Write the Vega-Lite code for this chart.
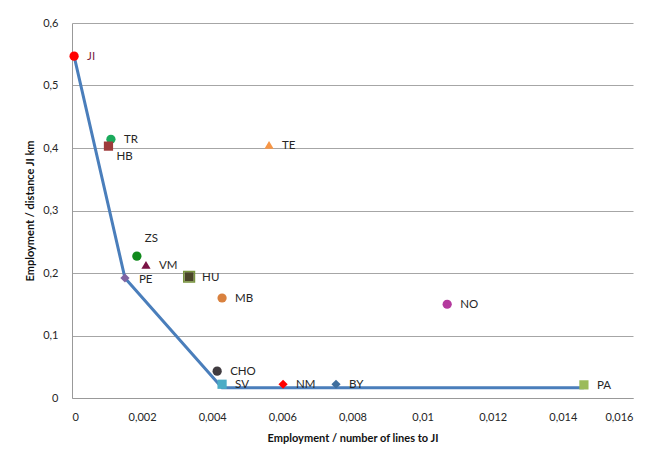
{
  "$schema": "https://vega.github.io/schema/vega-lite/v6.json",
  "autosize": {"type": "none"},
  "width": 561,
  "height": 375,
  "padding": {"left": 72, "top": 23, "right": 16, "bottom": 63},
  "background": "white",
  "config": {
    "font": "Lato",
    "view": {"stroke": null},
    "axis": {
      "labelFont": "Lato", "labelFontSize": 11, "labelColor": "#262626",
      "titleFont": "Lato", "titleFontSize": 11, "titleFontWeight": "bold", "titleColor": "#111111",
      "ticks": false, "domainColor": "#999999", "gridColor": "#a6a6a6", "gridWidth": 1
    }
  },
  "datasets": {
    "pts": [
      {"name": "JI", "x": 0.00006, "y": 0.547},
      {"name": "TR", "x": 0.00111, "y": 0.414},
      {"name": "HB", "x": 0.00104, "y": 0.403},
      {"name": "TE", "x": 0.00562, "y": 0.405},
      {"name": "ZS", "x": 0.00185, "y": 0.227},
      {"name": "VM", "x": 0.00211, "y": 0.213},
      {"name": "PE", "x": 0.00151, "y": 0.192},
      {"name": "HU", "x": 0.00334, "y": 0.194},
      {"name": "MB", "x": 0.00428, "y": 0.160},
      {"name": "NO", "x": 0.01070, "y": 0.150},
      {"name": "CHO", "x": 0.00414, "y": 0.043},
      {"name": "SV", "x": 0.00428, "y": 0.022},
      {"name": "NM", "x": 0.00602, "y": 0.022},
      {"name": "BY", "x": 0.00753, "y": 0.022},
      {"name": "PA", "x": 0.01460, "y": 0.021}
    ],
    "frontier": [
      {"order": 1, "x": 0.00006, "y": 0.547},
      {"order": 2, "x": 0.00151, "y": 0.192},
      {"order": 3, "x": 0.00428, "y": 0.0165},
      {"order": 4, "x": 0.01460, "y": 0.0165}
    ]
  },
  "layer": [
    {
      "data": {"name": "frontier"},
      "mark": {"type": "line", "color": "#4A7EBB", "strokeWidth": 3},
      "encoding": {
        "x": {"field": "x", "type": "quantitative", "scale": {"domain": [0, 0.016], "nice": false},
          "axis": {"values": [0, 0.002, 0.004, 0.006, 0.008, 0.01, 0.012, 0.014, 0.016], "grid": false,
            "labelExpr": "replace(format(datum.value, '~g'), '.', ',')", "labelPadding": 13,
            "title": "Employment / number of lines to JI", "titlePadding": 10}},
        "y": {"field": "y", "type": "quantitative", "scale": {"domain": [0, 0.6], "nice": false},
          "axis": {"values": [0, 0.1, 0.2, 0.3, 0.4, 0.5, 0.6], "grid": true,
            "labelExpr": "replace(format(datum.value, '~g'), '.', ',')", "labelPadding": 14,
            "title": "Employment / distance  JI km", "titlePadding": 7}},
        "order": {"field": "order"}
      }
    },
    {
      "data": {"name": "pts"},
      "mark": {"type": "point", "filled": true, "opacity": 1, "strokeWidth": 1.5},
      "encoding": {
        "x": {"field": "x", "type": "quantitative"},
        "y": {"field": "y", "type": "quantitative"},
        "color": {"field": "name", "type": "nominal", "legend": null,
          "scale": {"domain": ["JI","TR","HB","TE","ZS","VM","PE","HU","MB","NO","CHO","SV","NM","BY","PA"],
            "range": ["#FF0000","#1BAA5C","#9E3B3B","#F79646","#108A1C","#7A1245","#8064A2","#4A4528","#D9813E","#B43A9E","#403B40","#4BACC6","#FF0000","#3F6E9E","#9BBB59"]}},
        "shape": {"field": "name", "type": "nominal", "legend": null,
          "scale": {"domain": ["JI","TR","HB","TE","ZS","VM","PE","HU","MB","NO","CHO","SV","NM","BY","PA"],
            "range": ["circle","circle","square","triangle-up","circle","triangle-up","diamond","square","circle","circle","circle","square","diamond","diamond","square"]}},
        "size": {"field": "name", "type": "nominal", "legend": null,
          "scale": {"domain": ["JI","TR","HB","TE","ZS","VM","PE","HU","MB","NO","CHO","SV","NM","BY","PA"],
            "range": [85,85,115,140,85,120,75,115,85,85,85,115,75,75,115]}}
      }
    },
    {
      "data": {"name": "pts"},
      "transform": [{"filter": "datum.name === 'HU'"}],
      "mark": {"type": "point", "shape": "square", "filled": false, "stroke": "#77933C", "strokeWidth": 1.5, "size": 115, "opacity": 1},
      "encoding": {
        "x": {"field": "x", "type": "quantitative"},
        "y": {"field": "y", "type": "quantitative"}
      }
    },
    {
      "data": {"name": "pts"},
      "transform": [{"filter": "indexof(['HB','ZS','PE'], datum.name) < 0"}],
      "mark": {"type": "text", "align": "left", "baseline": "middle", "dx": 13, "dy": 1, "font": "Lato", "fontSize": 11.5},
      "encoding": {
        "x": {"field": "x", "type": "quantitative"},
        "y": {"field": "y", "type": "quantitative"},
        "text": {"field": "name"},
        "color": {"condition": {"test": "datum.name === 'JI'", "value": "#7B2143"}, "value": "#262626"}
      }
    },
    {
      "data": {"name": "pts"},
      "transform": [{"filter": "datum.name === 'HB'"}],
      "mark": {"type": "text", "align": "left", "baseline": "middle", "dx": 8, "dy": 11, "font": "Lato", "fontSize": 11.5, "color": "#262626"},
      "encoding": {
        "x": {"field": "x", "type": "quantitative"},
        "y": {"field": "y", "type": "quantitative"},
        "text": {"field": "name"}
      }
    },
    {
      "data": {"name": "pts"},
      "transform": [{"filter": "datum.name === 'ZS'"}],
      "mark": {"type": "text", "align": "left", "baseline": "middle", "dx": 8, "dy": -17, "font": "Lato", "fontSize": 11.5, "color": "#262626"},
      "encoding": {
        "x": {"field": "x", "type": "quantitative"},
        "y": {"field": "y", "type": "quantitative"},
        "text": {"field": "name"}
      }
    },
    {
      "data": {"name": "pts"},
      "transform": [{"filter": "datum.name === 'PE'"}],
      "mark": {"type": "text", "align": "left", "baseline": "middle", "dx": 14, "dy": 2, "font": "Lato", "fontSize": 11.5, "color": "#262626"},
      "encoding": {
        "x": {"field": "x", "type": "quantitative"},
        "y": {"field": "y", "type": "quantitative"},
        "text": {"field": "name"}
      }
    }
  ]
}
